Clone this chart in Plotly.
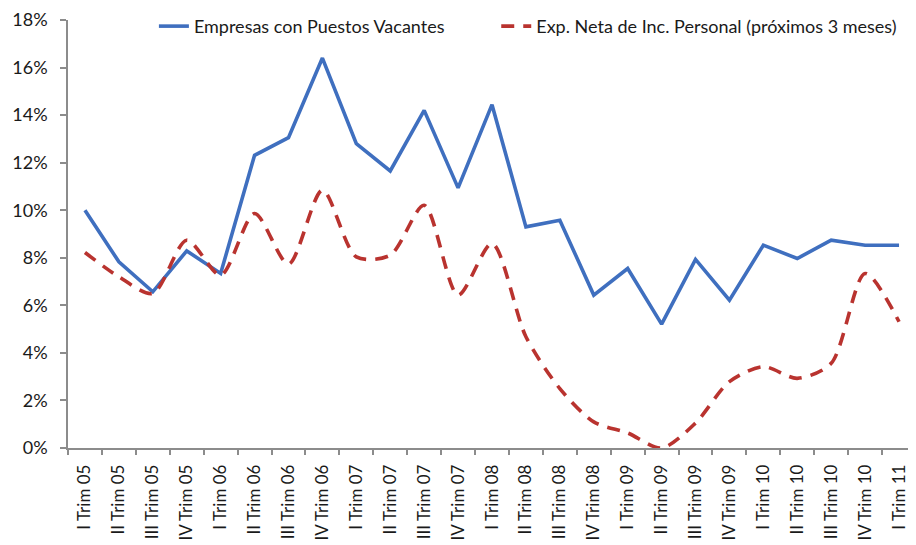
import plotly.graph_objects as go

quarters = ["I", "II", "III", "IV"]
years = ["05", "06", "07", "08", "09", "10", "11"]
categories = [f"{q} Trim {y}" for y in years for q in quarters][:25]

vacantes = [10.0, 7.83, 6.57, 8.29, 7.34, 12.31, 13.05, 16.4, 12.8, 11.65, 14.2, 10.94,
            14.44, 9.3, 9.58, 6.43, 7.55, 5.21, 7.93, 6.22, 8.53, 7.97, 8.74, 8.53, 8.53]
expectativa = [8.22, 7.2, 6.5, 8.74, 7.27, 9.86, 7.73, 10.84, 8.04, 8.11, 10.21, 6.43,
               8.6, 4.68, 2.5, 1.1, 0.63, 0.0, 1.05, 2.79, 3.42, 2.93, 3.56, 7.34, 5.31]

name_vac = "Empresas con Puestos Vacantes"
name_exp = "Exp. Neta de Inc. Personal (próximos 3 meses)"

font_family = "Lato, 'Open Sans', sans-serif"
text_color = "#1a1a1a"
axis_color = "#8c8c8c"

fig = go.Figure()
fig.add_trace(go.Scatter(
    x=categories, y=vacantes, name=name_vac, mode="lines",
    line=dict(color="#3f6fbf", width=3.6), legend="legend",
))
fig.add_trace(go.Scatter(
    x=categories, y=expectativa, name=name_exp, mode="lines",
    line=dict(color="#b9332f", width=3.6, dash="13px,9px", shape="spline", smoothing=0.8),
    legend="legend2",
))

legend_common = dict(
    orientation="h", xanchor="left", y=0.985, yanchor="middle",
    font=dict(size=18, color=text_color), bgcolor="rgba(0,0,0,0)",
)

fig.update_layout(
    width=908, height=537,
    margin=dict(l=60, r=0, t=12, b=97, autoexpand=False),
    paper_bgcolor="white", plot_bgcolor="white",
    font=dict(family=font_family, size=17, color=text_color),
    showlegend=True,
    legend=dict(x=0.1013, **legend_common),
    legend2=dict(x=0.505, **legend_common),
)
fig.update_xaxes(
    type="category", range=[-0.5, 24.5], automargin=False,
    showline=True, linecolor=axis_color, linewidth=1.5,
    ticks="outside", tickson="boundaries", ticklen=5, tickcolor=axis_color, tickwidth=1.5,
    tickangle=-90, ticklabelstandoff=8, showgrid=False, zeroline=False,
    tickfont=dict(size=17, color=text_color),
)
fig.update_yaxes(
    range=[0, 18], dtick=2, ticksuffix="%", automargin=False,
    showline=True, linecolor=axis_color, linewidth=1.5,
    ticks="outside", ticklen=6, tickcolor=axis_color, tickwidth=1.5,
    ticklabelstandoff=9, showgrid=False, zeroline=False,
    tickfont=dict(size=18, color=text_color),
)

fig.write_html("out.html")
